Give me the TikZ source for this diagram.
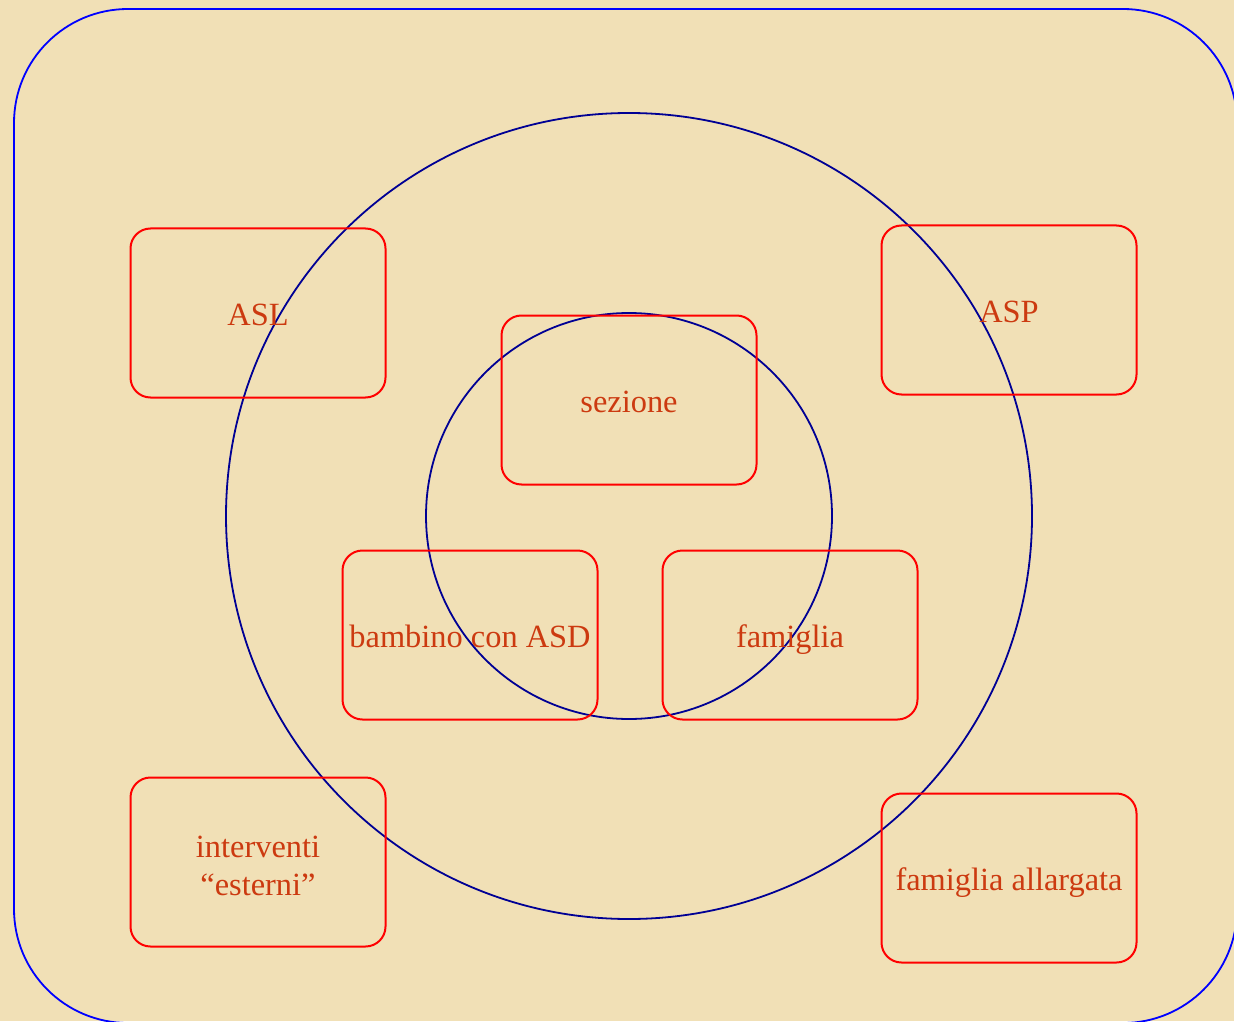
\documentclass[tikz,border=0pt]{standalone}
\usepackage{fontspec}
\setmainfont{Liberation Serif}
\usepackage{xcolor}
\usepackage{tikz}
\definecolor{parchment}{HTML}{F1E0B6}
\definecolor{rust}{HTML}{CC3A10}
\definecolor{ringblue}{HTML}{000094}

\begin{document}
\begin{tikzpicture}[
  x=0.5pt, y=-0.5pt,
  area/.style={
    draw=red,
    line width=1pt,
    rounded corners=10pt,
    minimum width=127.5pt,
    minimum height=84.5pt,
    align=center,
    text=rust,
    font=\fontsize{16.2}{19}\selectfont
  },
  oneline/.style={
    area,
    text height=13.5pt,
    text depth=1pt
  },
  ring/.style={
    draw=ringblue,
    line width=0.9pt,
    circle,
    inner sep=0pt
  }
]
\useasboundingbox (0,0) rectangle (1234,1021);
\clip (0,0) rectangle (1234,1021);
\fill[parchment] (0,0) rectangle (1234,1021);
\draw[blue, line width=0.9pt, rounded corners=57pt] (14,9) rectangle (1237,1023);

% circles
\node[ring, minimum size=403pt] (outer) at (629,516) {};
\node[ring, minimum size=203pt] (inner) at (629,516) {};

% boxes
\node[oneline] (asl) at (258,313) {ASL};
\node[oneline] (asp) at (1009,310) {ASP};
\node[oneline] (sezione) at (629,400) {sezione};
\node[oneline] (bambino) at (470,635) {bambino con ASD};
\node[oneline] (famiglia) at (790,635) {famiglia};
\node[area] (esterni) at (258,862) {\rule{0pt}{15pt}interventi\\``esterni''};
\node[oneline] (allargata) at (1009,878) {famiglia allargata};
\end{tikzpicture}
\end{document}
